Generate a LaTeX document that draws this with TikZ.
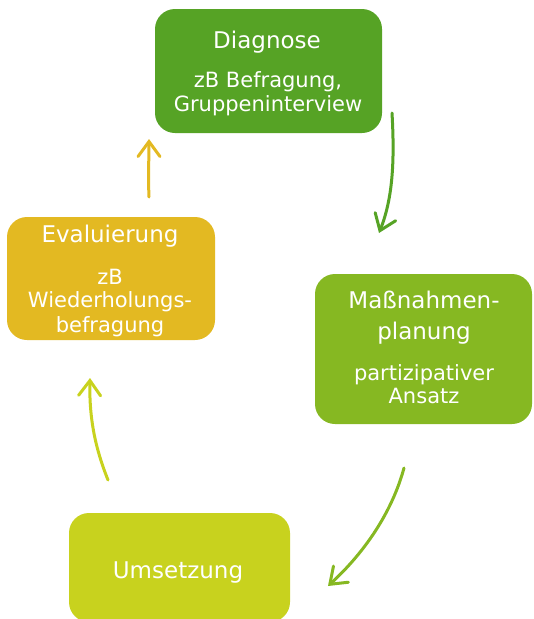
\documentclass[tikz,border=0pt]{standalone}
\usepackage{fontspec}
\setmainfont{DejaVu Sans}
\usetikzlibrary{arrows.meta}
\definecolor{cDiag}{RGB}{86,163,37}
\definecolor{cMass}{RGB}{134,184,34}
\definecolor{cUms}{RGB}{200,210,30}
\definecolor{cEval}{RGB}{227,185,34}
\begin{document}
\begin{tikzpicture}[x=1pt,y=-1pt,
  box/.style={draw=none, rounded corners=20pt, inner sep=0pt},
  ttl/.style={text=white, anchor=base, inner sep=0pt, font=\fontsize{23}{27}\selectfont},
  sub/.style={text=white, anchor=base, inner sep=0pt, font=\fontsize{21}{24}\selectfont},
  arr/.style={line width=3pt, line cap=round, -{Straight Barb[length=15pt,width=22pt,line cap=round]}}]
\useasboundingbox (0,0) rectangle (534,619);
% boxes
\node[box, fill=cDiag, minimum width=227pt, minimum height=124pt] (diag) at (268.5,71) {};
\node[box, fill=cMass, minimum width=217pt, minimum height=150pt] (mass) at (423.5,349) {};
\node[box, fill=cEval, minimum width=208pt, minimum height=123pt] (eval) at (111,278.5) {};
\node[box, fill=cUms, minimum width=221pt, minimum height=109pt] (ums) at (179.5,567.5) {};
% texts
\node[ttl] (t1) at (267,48.5) {Diagnose};
\node[sub] (t2) at (268,87.5) {zB Befragung,};
\node[sub] (t3) at (268,111.5) {Gruppeninterview};
\node[ttl] (t4) at (424,308.5) {Maßnahmen-};
\node[ttl] (t5) at (424,339) {planung};
\node[sub] (t6) at (424,380) {partizipativer};
\node[sub] (t7) at (424,403.5) {Ansatz};
\node[ttl] (t8) at (110,242) {Evaluierung};
\node[sub] (t9) at (110,284) {zB};
\node[sub] (t10) at (110,307) {Wiederholungs-};
\node[sub] (t11) at (110,332) {befragung};
\node[ttl] (t12) at (178,578.5) {Umsetzung};
% arrow end points
\coordinate (a1s) at (392,113);
\coordinate (a1e) at (379,233);
\coordinate (a2s) at (404,468);
\coordinate (a2e) at (328,586);
\coordinate (a3s) at (108,480);
\coordinate (a3e) at (90,378);
\coordinate (a4s) at (149,197);
\coordinate (a4e) at (149,139);
% arrows
\draw[arr, cDiag] (a1s) .. controls (395,165) and (392,200) .. (a1e);
\draw[arr, cMass] (a2s) .. controls (392,512) and (365,552) .. (a2e);
\draw[arr, cUms] (a3s) .. controls (96,450) and (89,420) .. (a3e);
\draw[arr, cEval] (a4s) .. controls (148,175) and (149,160) .. (a4e);
\end{tikzpicture}
\end{document}
